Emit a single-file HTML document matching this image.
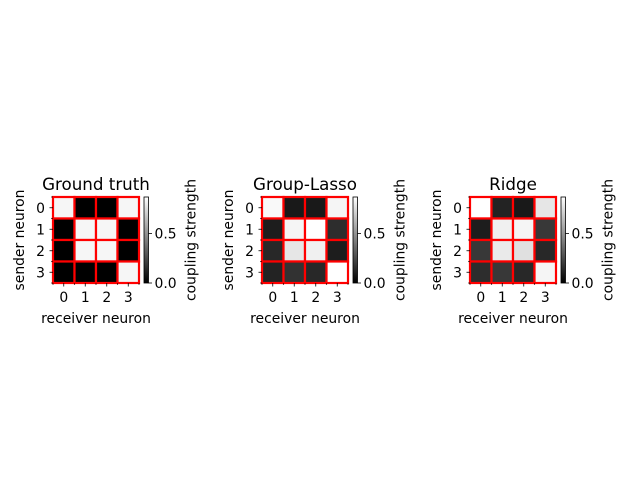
<!DOCTYPE html>
<html><head><meta charset="utf-8"><style>
body{margin:0;background:#fff}
svg{display:block;font-family:"DejaVu Sans","Liberation Sans",sans-serif}
</style></head><body>
<svg id="fig" width="640" height="480" viewBox="0 0 640 480"></svg>
<script>
const cats = [0,1,2,3];
const vmax = 0.87;
const cbTicks = [0.0, 0.5];
const cbTickLabels = ["0.0","0.5"];
const titles = ["Ground truth","Group-Lasso","Ridge"];
const gtValues = [[0.84,0,0,0.84],[0,0.84,0.84,0],[0,0.84,0.84,0],[0,0,0,0.84]];
const lassoValues = [[0.85,0.085,0.085,0.835],[0.10,0.835,0.87,0.155],[0.135,0.785,0.82,0.10],[0.12,0.17,0.135,0.87]];
const ridgeValues = [[0.87,0.12,0.085,0.785],[0.10,0.82,0.835,0.19],[0.19,0.80,0.765,0.135],[0.155,0.19,0.135,0.835]];
const allValues = [gtValues, lassoValues, ridgeValues];

const NS="http://www.w3.org/2000/svg";
const svg=document.getElementById('fig');
function mk(tag,attrs,parent){const e=document.createElementNS(NS,tag);for(const k in attrs)e.setAttribute(k,attrs[k]);(parent||svg).appendChild(e);return e;}
const axLeft=[53,262,470], axTop=197, axSize=86, cell=axSize/4;
const FS=13.9, TFS=16.7;
function gray(v){const g=Math.round(Math.max(0,Math.min(1,v/vmax))*255);return `rgb(${g},${g},${g})`;}

allValues.forEach((vals,p)=>{
  const x0=axLeft[p];
  const xs=i=>x0+i*cell, ys=j=>axTop+j*cell;
  const g=mk('g',{});
  
  
  vals.forEach((row,r)=>row.forEach((v,c)=>{
    const rc=mk('rect',{x:xs(c),y:ys(r),width:cell,height:cell,fill:gray(v),stroke:'red','stroke-width':2.2},g);
    
    
  }));
  const border=mk('rect',{x:x0,y:axTop,width:axSize,height:axSize,fill:'none',stroke:'red','stroke-width':2},g);
  
  
  cats.forEach((c,i)=>{
    mk('line',{x1:x0,x2:x0-3.5,y1:ys(i+0.5),y2:ys(i+0.5),stroke:'#000','stroke-width':0.8},g);
    mk('line',{x1:xs(i+0.5),x2:xs(i+0.5),y1:axTop+axSize,y2:axTop+axSize+3.5,stroke:'#000','stroke-width':0.8},g);
    const yl=mk('text',{x:x0-8,y:ys(i+0.5)+5,'text-anchor':'end','font-size':FS},g);yl.textContent=c;
    
    
    const xl=mk('text',{x:xs(i+0.5),y:axTop+axSize+19,'text-anchor':'middle','font-size':FS},g);xl.textContent=c;
    
    
  });
  for(let i=0;i<=4;i++){
    mk('line',{x1:x0,x2:x0-2,y1:ys(i),y2:ys(i),stroke:'#000','stroke-width':0.6},g);
    mk('line',{x1:xs(i),x2:xs(i),y1:axTop+axSize,y2:axTop+axSize+2,stroke:'#000','stroke-width':0.6},g);
  }
  const t=mk('text',{x:x0+axSize/2,y:axTop-7,'text-anchor':'middle','font-size':TFS},g);t.textContent=titles[p];
  
  
  const yt=mk('text',{x:0,y:0,'text-anchor':'middle','font-size':FS,transform:`translate(${x0-29},${axTop+axSize/2}) rotate(-90)`},g);yt.textContent='sender neuron';
  
  
  const xt=mk('text',{x:x0+axSize/2,y:axTop+axSize+40,'text-anchor':'middle','font-size':FS},g);xt.textContent='receiver neuron';
  
  
  const cbx=x0+91, cbw=4.5;
  const gid='cbg'+p;
  const defs=mk('defs',{},g);
  const lg=mk('linearGradient',{id:gid,x1:0,y1:1,x2:0,y2:0},defs);
  mk('stop',{offset:0,'stop-color':'#000'},lg);mk('stop',{offset:1,'stop-color':'#fff'},lg);
  const cb=mk('rect',{x:cbx,y:axTop,width:cbw,height:axSize,fill:`url(#${gid})`,stroke:'#000','stroke-width':0.8},g);
  
  
  cbTicks.forEach((v,i)=>{
    const y=axTop+axSize-v/vmax*axSize;
    mk('line',{x1:cbx+cbw,x2:cbx+cbw+3.5,y1:y,y2:y,stroke:'#000','stroke-width':0.8},g);
    const tl=mk('text',{x:cbx+cbw+6,y:y+5,'font-size':FS},g);tl.textContent=cbTickLabels[i];
    
    
  });
  const cl=mk('text',{x:0,y:0,'text-anchor':'middle','font-size':FS,transform:`translate(${cbx+cbw+47},${axTop+axSize/2}) rotate(-90)`},g);cl.textContent='coupling strength';
  
  
});
</script>
</body></html>
